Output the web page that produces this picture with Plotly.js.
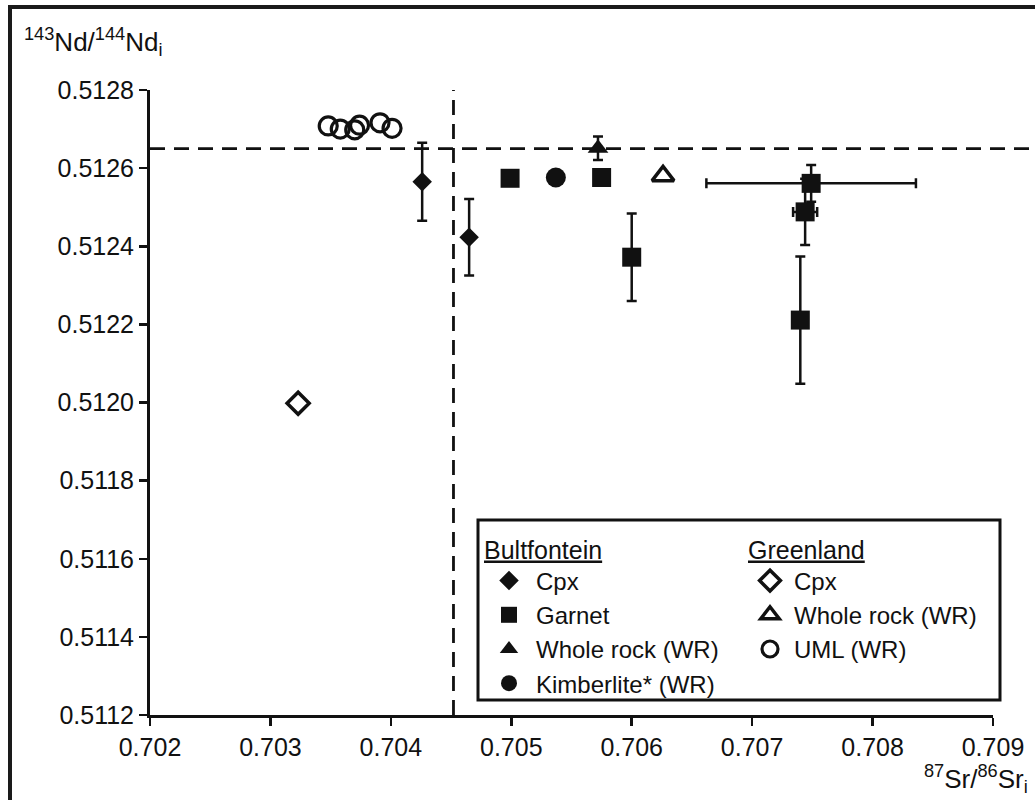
<!DOCTYPE html>
<html>
<head>
<meta charset="utf-8">
<script src="https://cdn.plot.ly/plotly-3.0.1.min.js"></script>
<style>html,body{margin:0;padding:0;background:#fff;}</style>
</head>
<body>
<div id="chart" style="width:1035px;height:800px;"></div>
<script>
// ---- Data ----
// Bultfontein
const bCpxX = [0.70426, 0.70465];
const bCpxY = [0.512565, 0.512423];
const bCpxErr = [0.000100, 0.000098];

const bGrtX = [0.70499, 0.70575, 0.70600, 0.70749, 0.70744, 0.70740];
const bGrtY = [0.512574, 0.512576, 0.512372, 0.512561, 0.512488, 0.512211];
const bGrtErrY = [0, 0, 0.000112, 0.000047, 0.000085, 0.000163];
const bGrtErrX = [0, 0, 0, 0.00087, 0.00010, 0];

const bWrX = [0.70572];
const bWrY = [0.512651];
const bWrErr = [0.00003];

const bKimX = [0.70537];
const bKimY = [0.512576];

// Greenland
const gCpxX = [0.70323];
const gCpxY = [0.511998];

const gWrX = [0.70626];
const gWrY = [0.51258];

const gUmlX = [0.70348, 0.70358, 0.70370, 0.70374, 0.70391, 0.70401];
const gUmlY = [0.512708, 0.512700, 0.512698, 0.512710, 0.512716, 0.512702];

// reference lines
const refSr = 0.70452;
const refNd = 0.51265;

// axis ranges and ticks
const xRange = [0.702, 0.709];
const yRange = [0.5112, 0.5128];
const xTicks = [0.702, 0.703, 0.704, 0.705, 0.706, 0.707, 0.708, 0.709];
const yTicks = [0.5112, 0.5114, 0.5116, 0.5118, 0.5120, 0.5122, 0.5124, 0.5126, 0.5128];

// ---- Layout geometry ----
const W = 1035, H = 800;
const M = {l: 150, r: 42, t: 90, b: 85};
const PW = W - M.l - M.r, PH = H - M.t - M.b;
const px = x => (x - M.l) / PW;       // pixel -> paper x
const py = y => (H - M.b - y) / PH;   // pixel -> paper y

const FONT = 'Liberation Sans, Arial, sans-serif';
const BLACK = '#111';

const errStyle = (arr) => ({type: 'data', array: arr, visible: true, color: BLACK, thickness: 2.5, width: 5});

const traces = [
  {x: bCpxX, y: bCpxY, name: 'Cpx', mode: 'markers', legend: 'legend',
   marker: {symbol: 'diamond', size: 15, color: BLACK},
   error_y: errStyle(bCpxErr)},
  {x: bGrtX, y: bGrtY, name: 'Garnet', mode: 'markers', legend: 'legend',
   marker: {symbol: 'square', size: 19, color: BLACK},
   error_y: errStyle(bGrtErrY), error_x: errStyle(bGrtErrX)},
  {x: bWrX, y: bWrY, name: 'Whole rock (WR)', mode: 'markers', legend: 'legend',
   marker: {symbol: 'triangle-up', size: 18, color: BLACK},
   error_y: errStyle(bWrErr)},
  {x: bKimX, y: bKimY, name: 'Kimberlite* (WR)', mode: 'markers', legend: 'legend',
   marker: {symbol: 'circle', size: 20, color: BLACK}},
  {x: gCpxX, y: gCpxY, name: 'Cpx', mode: 'markers', legend: 'legend2',
   marker: {symbol: 'diamond-open', size: 17, color: BLACK, line: {width: 3.5, color: BLACK}}},
  {x: gWrX, y: gWrY, name: 'Whole rock (WR)', mode: 'markers', legend: 'legend2',
   marker: {symbol: 'triangle-up-open', size: 19, color: BLACK, line: {width: 3.5, color: BLACK}}},
  {x: gUmlX, y: gUmlY, name: 'UML (WR)', mode: 'markers', legend: 'legend2',
   marker: {symbol: 'circle-open', size: 18, color: BLACK, line: {width: 3.2, color: BLACK}}}
];

const dash = '15px,9px';
const shapes = [
  // reference lines
  {type: 'line', xref: 'x', yref: 'paper', x0: refSr, x1: refSr, y0: 0, y1: 1,
   line: {color: BLACK, width: 2.8, dash: dash}, layer: 'below'},
  {type: 'line', xref: 'paper', yref: 'y', x0: 0, x1: px(1032), y0: refNd, y1: refNd,
   line: {color: BLACK, width: 2.8, dash: dash}, layer: 'below'},
  // legend box
  {type: 'rect', xref: 'paper', yref: 'paper', x0: px(478), x1: px(1000), y0: py(700), y1: py(520),
   line: {color: BLACK, width: 3}, fillcolor: 'rgba(255,255,255,1)'},
  // outer frame (top and left)
  {type: 'line', xref: 'paper', yref: 'paper', x0: px(8), x1: px(1040), y0: py(7), y1: py(7),
   line: {color: '#1a1a1a', width: 4}},
  {type: 'line', xref: 'paper', yref: 'paper', x0: px(10), x1: px(10), y0: py(5), y1: py(805),
   line: {color: '#1a1a1a', width: 4}}
];

const annotations = [
  {xref: 'paper', yref: 'paper', x: px(22), y: py(42), xanchor: 'left', yanchor: 'middle',
   text: '<sup>143</sup>Nd/<sup>144</sup>Nd<sub>i</sub>', showarrow: false,
   font: {family: FONT, size: 26, color: BLACK}},
  {xref: 'paper', yref: 'paper', x: px(1030), y: py(779), xanchor: 'right', yanchor: 'middle',
   text: '<sup>87</sup>Sr/<sup>86</sup>Sr<sub>i</sub>', showarrow: false,
   font: {family: FONT, size: 26, color: BLACK}}
];

const legendCommon = {
  bgcolor: 'rgba(0,0,0,0)', borderwidth: 0,
  font: {family: FONT, size: 24, color: BLACK},
  xanchor: 'left', yanchor: 'top', tracegroupgap: 0,
  itemclick: false, itemdoubleclick: false
};

const layout = {
  width: W, height: H,
  margin: M,
  paper_bgcolor: '#fff', plot_bgcolor: '#fff',
  font: {family: FONT, size: 24, color: BLACK},
  showlegend: true,
  xaxis: {
    range: xRange, tickvals: xTicks, tickformat: '.3f',
    showgrid: false, zeroline: false,
    showline: true, linecolor: BLACK, linewidth: 3,
    ticks: 'outside', ticklen: 8, tickwidth: 2.5, tickcolor: BLACK,
    tickfont: {family: FONT, size: 25, color: BLACK}
  },
  yaxis: {
    range: yRange, tickvals: yTicks, tickformat: '.4f',
    showgrid: false, zeroline: false,
    showline: true, linecolor: BLACK, linewidth: 3,
    ticks: 'outside', ticklen: 8, tickwidth: 2.5, tickcolor: BLACK,
    tickfont: {family: FONT, size: 25, color: BLACK}
  },
  legend: Object.assign({}, legendCommon, {
    x: px(482), y: py(526), itemwidth: 44,
    title: {text: '<u>Bultfontein</u>', font: {family: FONT, size: 25, color: BLACK}}
  }),
  legend2: Object.assign({}, legendCommon, {
    x: px(746), y: py(526), itemwidth: 38,
    title: {text: '<u>Greenland</u>', font: {family: FONT, size: 25, color: BLACK}}
  }),
  shapes: shapes,
  annotations: annotations
};

Plotly.newPlot('chart', traces, layout, {displayModeBar: false, staticPlot: true});
</script>
</body>
</html>
